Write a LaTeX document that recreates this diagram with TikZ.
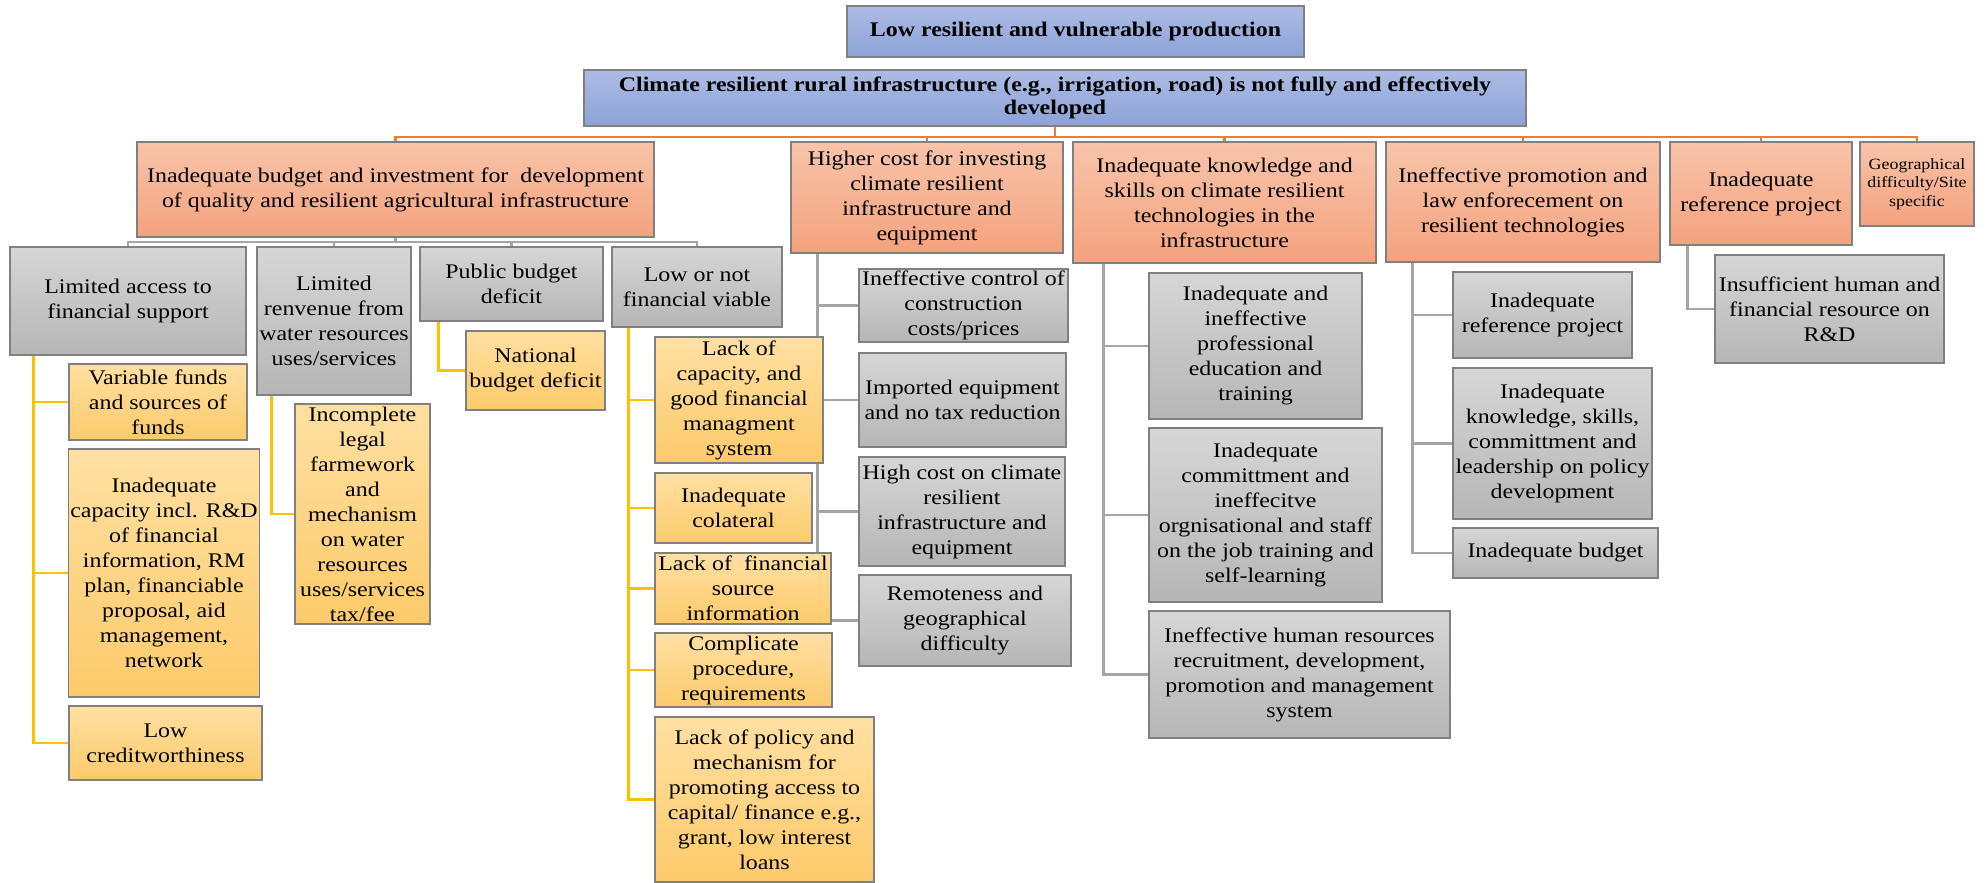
\documentclass[tikz,border=0pt]{standalone}
\usepackage{fontspec}
\setmainfont{Liberation Serif}[FakeStretch=1.15]
\usetikzlibrary{backgrounds}

\definecolor{blueT}{RGB}{172,188,228}
\definecolor{blueB}{RGB}{140,162,216}
\definecolor{orT}{RGB}{248,196,170}
\definecolor{orB}{RGB}{244,162,126}
\definecolor{grT}{RGB}{214,214,214}
\definecolor{grB}{RGB}{182,182,182}
\definecolor{yeT}{RGB}{255,224,162}
\definecolor{yeB}{RGB}{252,202,106}
\definecolor{oLine}{RGB}{237,125,49}
\definecolor{gLine}{RGB}{165,165,165}
\definecolor{yLine}{RGB}{255,192,0}

\tikzset{
  box/.style={draw=black!50, line width=0.7pt, align=center, inner sep=1pt,
    font=\fontsize{10.4}{12.5}\selectfont},
  sz/.style 2 args={minimum width=#1*0.5pt, minimum height=#2*0.5pt},
  bluebox/.style={box, top color=blueT, bottom color=blueB,
    font=\fontsize{10.4}{11.6}\selectfont\bfseries},
  orbox/.style={box, top color=orT, bottom color=orB},
  grbox/.style={box, top color=grT, bottom color=grB},
  yebox/.style={box, top color=yeT, bottom color=yeB},
  oline/.style={draw=oLine, line width=1.4pt},
  gline/.style={draw=gLine, line width=1.3pt},
  yline/.style={draw=yLine, line width=1.3pt}
}

\begin{document}
\begin{tikzpicture}[x=0.5pt, y=-0.5pt]
  \useasboundingbox (0,0) rectangle (1988,883);

  % Problem boxes
  \node[bluebox, sz={457}{51}] (top) at (1075.5,31.5) {Low resilient and vulnerable production};
  \node[bluebox, sz={942}{56}] (climate) at (1055,98)
    {Climate resilient rural infrastructure (e.g., irrigation, road) is not fully and effectively\\developed};

  % Main causes
  \node[orbox, sz={517}{95}] (budget) at (395.5,189.5)
    {Inadequate budget and investment for~ development\\of quality and resilient agricultural infrastructure};
  \node[orbox, sz={272}{111}] (cost) at (927,197.5)
    {Higher cost for investing\\climate resilient\\infrastructure and\\equipment};
  \node[orbox, sz={303}{121}] (know) at (1224.5,202.5)
    {Inadequate knowledge and\\skills on climate resilient\\technologies in the\\infrastructure};
  \node[orbox, sz={274}{120}] (promo) at (1523,202)
    {Ineffective promotion and\\law enforecement on\\resilient technologies};
  \node[orbox, sz={182}{103}] (ref) at (1761,193.5) {Inadequate\\reference project};
  \node[orbox, sz={114}{84}, font=\fontsize{7.8}{9.3}\selectfont] (geo) at (1917,184)
    {Geographical\\difficulty/Site\\specific};

  % Budget branch
  \node[grbox, sz={236}{108}] (access) at (128,301) {Limited access to\\financial support};
  \node[grbox, sz={154}{148}] (revenue) at (334,321)
    {Limited\\renvenue from\\water resources\\uses/services};
  \node[grbox, sz={183}{74}] (public) at (511.5,284) {Public budget\\deficit};
  \node[grbox, sz={170}{80}] (viable) at (697,287) {Low or not\\financial viable};

  \node[yebox, sz={178}{76}] (varfund) at (158,402) {Variable funds\\and sources of\\funds};
  \node[yebox, sz={190}{248}] (capacity) at (164,573)
    {Inadequate\\capacity incl. R\&D\\of financial\\information, RM\\plan, financiable\\proposal, aid\\management,\\network};
  \node[yebox, sz={193}{74}] (credit) at (165.5,743) {Low\\creditworthiness};
  \node[yebox, sz={135}{220}] (legal) at (362.5,514)
    {Incomplete\\legal\\farmework\\and\\mechanism\\on water\\resources\\uses/services\\tax/fee};
  \node[yebox, sz={139}{79}] (national) at (535.5,370.5) {National\\budget deficit};
  \node[yebox, sz={168}{126}] (lackcap) at (739,400)
    {Lack of\\capacity, and\\good financial\\managment\\system};
  \node[yebox, sz={157}{70}] (collat) at (733.5,508) {Inadequate\\colateral};
  \node[yebox, sz={176}{71}] (source) at (743,588.5) {Lack of~ financial\\source\\information};
  \node[yebox, sz={177}{74}] (proced) at (743.5,670) {Complicate\\procedure,\\requirements};
  \node[yebox, sz={219}{165}] (policy) at (764.5,799.5)
    {Lack of policy and\\mechanism for\\promoting access to\\capital/ finance e.g.,\\grant, low interest\\loans};

  % Cost branch
  \node[grbox, sz={209}{73}] (control) at (963.5,305.5) {Ineffective control of\\construction\\costs/prices};
  \node[grbox, sz={207}{94}] (import) at (962.5,400) {Imported equipment\\and no tax reduction};
  \node[grbox, sz={206}{109}] (highcost) at (962,511.5)
    {High cost on climate\\resilient\\infrastructure and\\equipment};
  \node[grbox, sz={212}{91}] (remote) at (965,620.5) {Remoteness and\\geographical\\difficulty};

  % Knowledge branch
  \node[grbox, sz={213}{146}] (edu) at (1255.5,346)
    {Inadequate and\\ineffective\\professional\\education and\\training};
  \node[grbox, sz={233}{174}] (commit) at (1265.5,515)
    {Inadequate\\committment and\\ineffecitve\\orgnisational and staff\\on the job training and\\self-learning};
  \node[grbox, sz={301}{127}] (hr) at (1299.5,674.5)
    {Ineffective human resources\\recruitment, development,\\promotion and management\\system};

  % Promotion branch
  \node[grbox, sz={179}{86}] (refproj) at (1542.5,315) {Inadequate\\reference project};
  \node[grbox, sz={199}{151}] (skills) at (1552.5,443.5)
    {Inadequate\\knowledge, skills,\\committment and\\leadership on policy\\development};
  \node[grbox, sz={205}{50}] (pbudget) at (1555.5,553) {Inadequate budget};

  % Reference branch
  \node[grbox, sz={229}{108}] (rnd) at (1829.5,309)
    {Insufficient human and\\financial resource on\\R\&D};

  % Connectors
  \begin{pgfonlayer}{background}
    \coordinate (obus) at (1055,137);
    \foreach \n in {budget,cost,know,promo,ref,geo}
      \draw[oline] (climate.south) -- (obus) -| (\n.north);
    \coordinate (gbus) at (395.5,242);
    \foreach \n in {access,revenue,public,viable}
      \draw[gline] (budget.south) -- (gbus) -| (\n.north);

    \foreach \n in {varfund,capacity,credit}
      \draw[yline] ([xshift=12pt]access.south west) |- (\n.west);
    \draw[yline] ([xshift=7.5pt]revenue.south west) |- (legal.west);
    \draw[yline] ([xshift=9.5pt]public.south west) |- (national.west);
    \foreach \n in {lackcap,collat,source,proced,policy}
      \draw[yline] ([xshift=8.5pt]viable.south west) |- (\n.west);

    \foreach \n in {control,import,highcost,remote}
      \draw[gline] ([xshift=13.5pt]cost.south west) |- (\n.west);
    \foreach \n in {edu,commit,hr}
      \draw[gline] ([xshift=15.5pt]know.south west) |- (\n.west);
    \foreach \n in {refproj,skills,pbudget}
      \draw[gline] ([xshift=13.5pt]promo.south west) |- (\n.west);
    \draw[gline] ([xshift=9pt]ref.south west) |- (rnd.west);
  \end{pgfonlayer}
\end{tikzpicture}
\end{document}
